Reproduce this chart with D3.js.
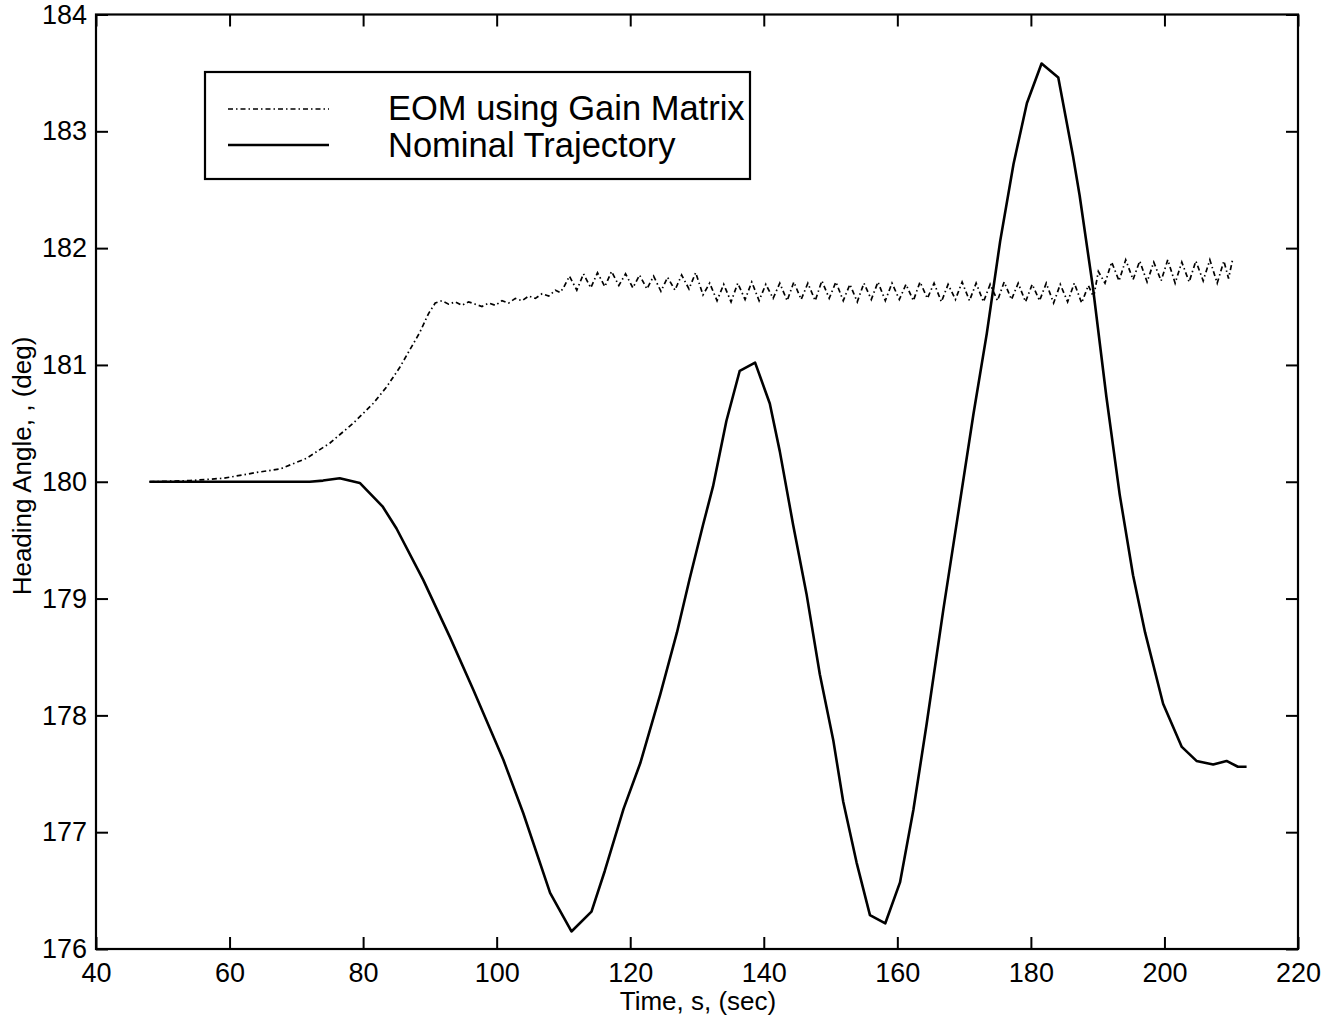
<!DOCTYPE html>
<html>
<head>
<meta charset="utf-8">
<script src="https://cdn.jsdelivr.net/npm/d3@7"></script>
<style>
  html, body { margin: 0; padding: 0; background: #fff; }
  svg { display: block; }
  text { font-family: "Liberation Sans", Arial, sans-serif; fill: #000; }
</style>
</head>
<body>
<svg id="chart" width="1336" height="1024"></svg>
<script>
// Axis tick values
const xTicks = [40, 60, 80, 100, 120, 140, 160, 180, 200, 220];
const yTicks = [176, 177, 178, 179, 180, 181, 182, 183, 184];

// Series names
const seriesNames = ["EOM using Gain Matrix", "Nominal Trajectory"];

// Nominal trajectory: time (s) and heading angle (deg)
const nominalTime = [48, 60, 72, 74, 76.5, 79.5, 82.9, 85.0, 89.0, 93.0, 96.5, 101.0, 104.0, 108.0, 111.2,
  114.2, 116.2, 119.0, 121.5, 124.5, 127.0, 128.9, 130.9, 132.4, 134.4, 136.4, 138.7, 140.9, 142.4,
  144.4, 146.4, 148.4, 150.4, 151.9, 153.9, 155.9, 158.2, 160.4, 162.4, 164.4, 166.9, 168.9, 171.4,
  173.4, 175.4, 177.4, 179.4, 181.6, 184.1, 186.3, 187.3, 189.3, 191.3, 193.3, 195.3, 197.1, 199.8,
  202.6, 204.8, 207.3, 209.3, 211.0, 212.3];
const nominalHeading = [180, 180, 180, 180.01, 180.03, 179.99, 179.79, 179.60, 179.16, 178.67, 178.22, 177.62, 177.16, 176.48, 176.15,
  176.32, 176.67, 177.20, 177.59, 178.18, 178.71, 179.17, 179.63, 179.96, 180.52, 180.95, 181.02, 180.67, 180.26,
  179.63, 179.04, 178.35, 177.79, 177.26, 176.74, 176.29, 176.22, 176.57, 177.19, 177.93, 178.91, 179.65, 180.58,
  181.27, 182.06, 182.72, 183.24, 183.58, 183.46, 182.79, 182.45, 181.66, 180.73, 179.89, 179.20, 178.71, 178.10,
  177.73, 177.61, 177.58, 177.61, 177.56, 177.56];

// Equations of motion with gain matrix: time (s) and heading angle (deg)
const eomTime = [48, 54.1, 59.1, 64.1, 67.6, 71.5, 75.0, 78.5, 81.5, 83.5, 85.5, 87.0, 88.5, 89.8, 90.8,
  91.8, 92.8, 93.8, 94.8, 95.8, 96.8, 97.8, 98.8, 99.8, 100.8, 101.8, 102.8, 103.8, 104.8, 105.8,
  106.8, 107.8, 108.8, 109.5,
  110.0, 110.9, 112.0, 113.0, 114.1, 115.1, 116.2, 117.2, 118.3, 119.3, 120.4, 121.4, 122.5, 123.5,
  124.6, 125.6, 126.7, 127.7, 128.8, 129.8, 130.9, 131.9,
  133.0, 134.0, 135.1, 136.1, 137.2, 138.2, 139.3, 140.3, 141.4, 142.4, 143.5, 144.5, 145.6, 146.6,
  147.7, 148.7, 149.8, 150.8, 151.9, 152.9, 154.0, 155.0, 156.1, 157.1, 158.2, 159.2, 160.3, 161.3,
  162.4, 163.4, 164.5, 165.5, 166.6, 167.6, 168.7, 169.7, 170.8, 171.8, 172.9, 173.9, 175.0, 176.0,
  177.1, 178.1, 179.2, 180.2, 181.3, 182.3, 183.4, 184.4, 185.5, 186.5, 187.6, 188.6,
  189.4, 190.1, 191.1, 192.1, 193.2, 194.2, 195.3, 196.3, 197.4, 198.4, 199.5, 200.5, 201.6, 202.6,
  203.7, 204.7, 205.8, 206.8, 207.9, 208.9, 209.6, 210.2];
const eomHeading = [180.0, 180.01, 180.03, 180.08, 180.11, 180.20, 180.33, 180.50, 180.67, 180.81, 180.98, 181.13, 181.28, 181.44, 181.53,
  181.55, 181.52, 181.54, 181.51, 181.54, 181.52, 181.50, 181.53, 181.51, 181.55, 181.53, 181.57, 181.55, 181.59, 181.57,
  181.61, 181.59, 181.64, 181.62,
  181.66, 181.76, 181.64, 181.78, 181.66, 181.79, 181.67, 181.80, 181.68, 181.78, 181.66, 181.77, 181.65, 181.76,
  181.63, 181.75, 181.64, 181.77, 181.65, 181.79, 181.60, 181.70,
  181.55, 181.69, 181.54, 181.70, 181.56, 181.71, 181.55, 181.69, 181.57, 181.70, 181.55, 181.71, 181.56, 181.70,
  181.55, 181.72, 181.57, 181.71, 181.55, 181.69, 181.54, 181.70, 181.56, 181.71, 181.55, 181.70, 181.56, 181.69,
  181.55, 181.71, 181.57, 181.70, 181.54, 181.69, 181.56, 181.71, 181.55, 181.70, 181.54, 181.69, 181.55, 181.71,
  181.56, 181.70, 181.54, 181.69, 181.55, 181.70, 181.53, 181.69, 181.54, 181.70, 181.53, 181.68,
  181.58, 181.80, 181.70, 181.88, 181.72, 181.90, 181.73, 181.89, 181.71, 181.88, 181.72, 181.90, 181.70, 181.88,
  181.71, 181.89, 181.72, 181.90, 181.70, 181.89, 181.74, 181.90];

const svg = d3.select("#chart");
const plotLeft = 96, plotRight = 1298, plotTop = 14.5, plotBottom = 949;

const x = d3.scaleLinear().domain([40, 220]).range([plotLeft, plotRight]);
const y = d3.scaleLinear().domain([176, 184]).range([plotBottom, plotTop]);

const tickLen = 12;
const tickFont = 27;

// Bottom axis with labels, inward ticks
const gx = svg.append("g").attr("transform", `translate(0,${plotBottom})`)
  .call(d3.axisBottom(x).tickValues(xTicks).tickSizeInner(-tickLen).tickSizeOuter(0).tickPadding(14));
gx.select(".domain").remove();
gx.selectAll("line").attr("stroke", "#000").attr("stroke-width", 2);
gx.selectAll("text").attr("font-size", tickFont).attr("font-family", "Liberation Sans, Arial, sans-serif");

// Top axis, ticks only
const gxt = svg.append("g").attr("transform", `translate(0,${plotTop})`)
  .call(d3.axisTop(x).tickValues(xTicks).tickSizeInner(-tickLen).tickSizeOuter(0).tickFormat(""));
gxt.select(".domain").remove();
gxt.selectAll("line").attr("stroke", "#000").attr("stroke-width", 2);

// Left axis with labels
const gy = svg.append("g").attr("transform", `translate(${plotLeft},0)`)
  .call(d3.axisLeft(y).tickValues(yTicks).tickSizeInner(-tickLen).tickSizeOuter(0).tickPadding(9));
gy.select(".domain").remove();
gy.selectAll("line").attr("stroke", "#000").attr("stroke-width", 2);
gy.selectAll("text").attr("font-size", tickFont).attr("font-family", "Liberation Sans, Arial, sans-serif");

// Right axis, ticks only
const gyr = svg.append("g").attr("transform", `translate(${plotRight},0)`)
  .call(d3.axisRight(y).tickValues(yTicks).tickSizeInner(-tickLen).tickSizeOuter(0).tickFormat(""));
gyr.select(".domain").remove();
gyr.selectAll("line").attr("stroke", "#000").attr("stroke-width", 2);

// Plot frame
svg.append("rect")
  .attr("x", plotLeft).attr("y", plotTop)
  .attr("width", plotRight - plotLeft).attr("height", plotBottom - plotTop)
  .attr("fill", "none").attr("stroke", "#000").attr("stroke-width", 2.2);

// Axis titles
svg.append("text")
  .attr("x", 698).attr("y", 1010)
  .attr("text-anchor", "middle").attr("font-size", 26)
  .text("Time, s, (sec)");
svg.append("text")
  .attr("transform", "translate(31,466) rotate(-90)")
  .attr("text-anchor", "middle").attr("font-size", 26)
  .text("Heading Angle, , (deg)");

// Curves
const line = d3.line().x(d => x(d[0])).y(d => y(d[1]));
const eomData = eomTime.map((t, i) => [t, eomHeading[i]]);
const nominalData = nominalTime.map((t, i) => [t, nominalHeading[i]]);

const eomDash = "5,3,1.5,3";

svg.append("path").datum(eomData)
  .attr("d", line).attr("fill", "none")
  .attr("stroke", "#000").attr("stroke-width", 1.7)
  .attr("stroke-dasharray", eomDash);

svg.append("path").datum(nominalData)
  .attr("d", line).attr("fill", "none")
  .attr("stroke", "#000").attr("stroke-width", 2.6)
  .attr("stroke-linejoin", "round");

// Legend
const lg = svg.append("g");
lg.append("rect")
  .attr("x", 205).attr("y", 72).attr("width", 545).attr("height", 107)
  .attr("fill", "#fff").attr("stroke", "#000").attr("stroke-width", 2.2);
const legendRows = [
  { name: seriesNames[0], dash: eomDash, w: 1.7, ly: 109, ty: 120 },
  { name: seriesNames[1], dash: null, w: 2.4, ly: 145, ty: 157 }
];
legendRows.forEach(r => {
  lg.append("line")
    .attr("x1", 228).attr("x2", 329).attr("y1", r.ly).attr("y2", r.ly)
    .attr("stroke", "#000").attr("stroke-width", r.w)
    .attr("stroke-dasharray", r.dash);
  lg.append("text")
    .attr("x", 388).attr("y", r.ty)
    .attr("font-size", 34.5)
    .text(r.name);
});
</script>
</body>
</html>
